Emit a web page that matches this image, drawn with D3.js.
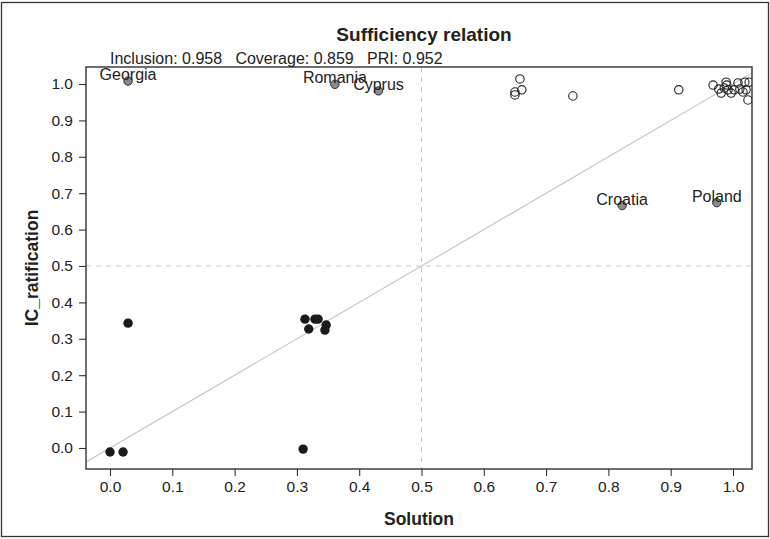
<!DOCTYPE html>
<html>
<head>
<meta charset="utf-8">
<script src="https://cdn.jsdelivr.net/npm/d3@7"></script>
<style>
  body { margin: 0; background: #fff; }
  text { font-family: "Liberation Sans", Arial, sans-serif; fill: #222; }
</style>
</head>
<body>
<script>
const width = 770;
const height = 539;

// cases in the lower-left quadrant (filled black)
const outX = [0.000, 0.021, 0.310, 0.029, 0.313, 0.329, 0.334, 0.319, 0.347, 0.345];
const outY = [-0.011, -0.011, -0.003, 0.343, 0.354, 0.354, 0.354, 0.327, 0.338, 0.324];

// cases in the upper-right quadrant (open circles)
const inX = [0.658, 0.650, 0.650, 0.661, 0.743, 0.913,
  0.968, 0.977, 0.981, 0.986, 0.989, 0.990, 0.992, 0.997,
  1.002, 1.008, 1.011, 1.016, 1.019, 1.021, 1.026, 1.024];
const inY = [1.014, 0.978, 0.970, 0.984, 0.967, 0.984,
  0.997, 0.986, 0.975, 0.989, 1.005, 0.997, 0.984, 0.975,
  0.984, 1.003, 0.986, 0.978, 1.005, 0.984, 1.005, 0.956];

// deviant cases (grey, labelled)
const devNames = ["Georgia", "Romania", "Cyprus", "Croatia", "Poland"];
const devX = [0.029, 0.361, 0.431, 0.822, 0.974];
const devY = [1.008, 0.999, 0.981, 0.666, 0.674];

const ticks = [0, 0.1, 0.2, 0.3, 0.4, 0.5, 0.6, 0.7, 0.8, 0.9, 1.0];
const title = "Sufficiency relation";
const subtitle = "Inclusion: 0.958   Coverage: 0.859   PRI: 0.952";

const m = { left: 86, right: 18, top: 67, bottom: 70 };

const x = d3.scaleLinear().domain([-0.0385, 1.0305]).range([m.left, width - m.right]);
const y = d3.scaleLinear().domain([-0.0577, 1.0467]).range([height - m.bottom, m.top]);

const svg = d3.select("body").append("svg")
  .attr("width", width).attr("height", height);

// outer frame
svg.append("rect")
  .attr("x", 1.5).attr("y", 2.5)
  .attr("width", width - 3).attr("height", height - 5)
  .attr("fill", "none").attr("stroke", "#333").attr("stroke-width", 1.3);

svg.append("clipPath").attr("id", "clip")
  .append("rect")
  .attr("x", m.left).attr("y", m.top)
  .attr("width", width - m.left - m.right)
  .attr("height", height - m.top - m.bottom);

const plot = svg.append("g").attr("clip-path", "url(#clip)");

// diagonal
plot.append("line")
  .attr("x1", x(-0.1)).attr("y1", y(-0.1))
  .attr("x2", x(1.1)).attr("y2", y(1.1))
  .attr("stroke", "#c8c8c8").attr("stroke-width", 1.2);

// 0.5 thresholds
plot.append("line")
  .attr("x1", x(0.5)).attr("x2", x(0.5))
  .attr("y1", m.top).attr("y2", height - m.bottom)
  .attr("stroke", "#c8c8c8").attr("stroke-dasharray", "5,5");
plot.append("line")
  .attr("x1", m.left).attr("x2", width - m.right)
  .attr("y1", y(0.5)).attr("y2", y(0.5))
  .attr("stroke", "#c8c8c8").attr("stroke-dasharray", "5,5");

// points
plot.append("g").selectAll("circle")
  .data(d3.range(outX.length))
  .join("circle")
  .attr("cx", (i) => x(outX[i]))
  .attr("cy", (i) => y(outY[i]))
  .attr("r", 4.7)
  .attr("fill", "#1a1a1a");

plot.append("g").selectAll("circle")
  .data(d3.range(inX.length))
  .join("circle")
  .attr("cx", (i) => x(inX[i]))
  .attr("cy", (i) => y(inY[i]))
  .attr("r", 4.2)
  .attr("fill", "none")
  .attr("stroke", "#222")
  .attr("stroke-width", 1.1);

plot.append("g").selectAll("circle")
  .data(d3.range(devX.length))
  .join("circle")
  .attr("cx", (i) => x(devX[i]))
  .attr("cy", (i) => y(devY[i]))
  .attr("r", 4.2)
  .attr("fill", "#8a8a8a")
  .attr("stroke", "#333")
  .attr("stroke-width", 1);

// labels for deviant cases
svg.append("g").selectAll("text")
  .data(d3.range(devNames.length))
  .join("text")
  .attr("x", (i) => x(devX[i]))
  .attr("y", (i) => y(devY[i]) - 1)
  .attr("text-anchor", "middle")
  .attr("font-size", 16)
  .text((i) => devNames[i]);

// axes
const xAxis = svg.append("g")
  .attr("transform", `translate(0,${height - m.bottom})`)
  .call(d3.axisBottom(x).tickValues(ticks).tickFormat(d3.format(".1f")).tickSize(7).tickPadding(5));
const yAxis = svg.append("g")
  .attr("transform", `translate(${m.left},0)`)
  .call(d3.axisLeft(y).tickValues(ticks).tickFormat(d3.format(".1f")).tickSize(7).tickPadding(6));

[xAxis, yAxis].forEach((g) => {
  g.select(".domain").remove();
  g.selectAll("line").attr("stroke", "#333").attr("stroke-width", 1.1);
  g.selectAll("text").attr("font-size", 15.5).attr("fill", "#222")
    .style("font-family", "'Liberation Sans', Arial, sans-serif");
});

// plot box
svg.append("rect")
  .attr("x", m.left).attr("y", m.top)
  .attr("width", width - m.left - m.right)
  .attr("height", height - m.top - m.bottom)
  .attr("fill", "none").attr("stroke", "#333").attr("stroke-width", 1.4);

// titles
svg.append("text")
  .attr("x", 424).attr("y", 41)
  .attr("text-anchor", "middle")
  .attr("font-size", 19).attr("font-weight", "bold")
  .text(title);

svg.append("text")
  .attr("x", 110).attr("y", 64)
  .attr("font-size", 16)
  .attr("xml:space", "preserve")
  .style("white-space", "pre")
  .text(subtitle);

svg.append("text")
  .attr("x", (m.left + width - m.right) / 2).attr("y", 525)
  .attr("text-anchor", "middle")
  .attr("font-size", 17.5).attr("font-weight", "bold")
  .text("Solution");

svg.append("text")
  .attr("transform", `translate(38,${(m.top + height - m.bottom) / 2}) rotate(-90)`)
  .attr("text-anchor", "middle")
  .attr("font-size", 17.5).attr("font-weight", "bold")
  .text("IC_ratification");
</script>
</body>
</html>
